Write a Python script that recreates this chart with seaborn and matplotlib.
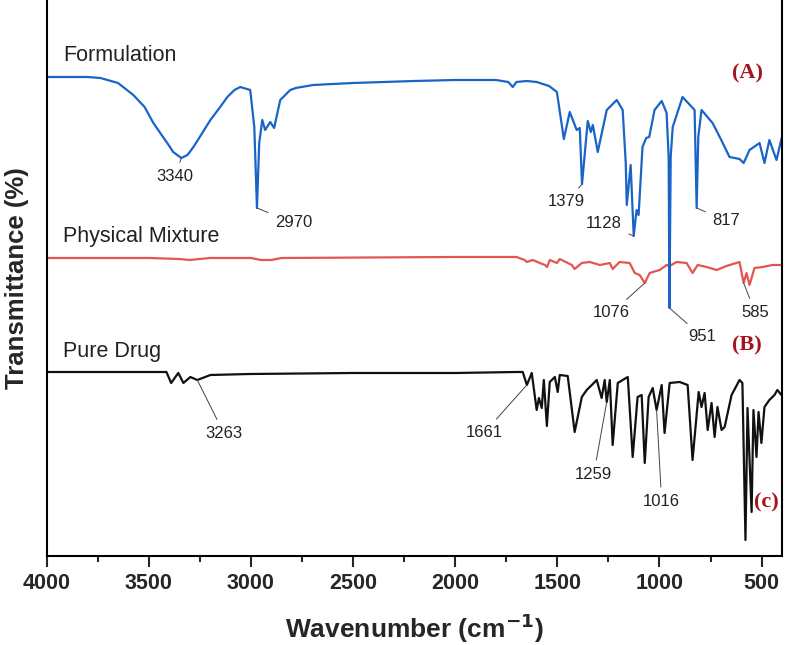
import pandas as pd
import matplotlib.pyplot as plt
import seaborn as sns
from matplotlib.ticker import MultipleLocator

sns.set_style("ticks")
plt.rcParams["font.family"] = ["Liberation Sans", "DejaVu Sans"]

# FTIR spectra, transmittance relative to each trace's own baseline (a.u.)
form_wn = [4000, 3800, 3736, 3650, 3575, 3520, 3477, 3440, 3409, 3380, 3340, 3310,
           3281, 3250, 3198, 3150, 3115, 3080, 3052, 3003,
           2983, 2970, 2959, 2944, 2930, 2905, 2886, 2856, 2807, 2780, 2695, 2600,
           2500, 2200, 2000, 1800, 1740, 1718, 1700, 1650, 1600, 1586, 1540, 1502,
           1468, 1439, 1405, 1390, 1379, 1351, 1336, 1326, 1302, 1258, 1209, 1180,
           1165, 1160, 1141, 1126, 1112, 1102, 1083, 1065, 1050, 1024, 989, 965,
           955, 951, 945, 935, 887, 828, 818, 810, 794, 740, 700, 657, 608, 588,
           559, 510, 486, 462, 427, 402]
form_t = [0, 0, -1, -6, -18, -30, -46, -57, -66, -75, -81, -78,
          -70, -60, -43, -30, -20, -13, -10, -13,
          -50, -131, -66, -43, -53, -45, -51, -23, -13, -11, -8, -7,
          -6, -4, -3, -3, -5, -10, -5, -4, -5, -6, -9, -15,
          -62, -35, -53, -51, -107, -44, -55, -48, -75, -33, -23, -33,
          -86, -128, -88, -159, -133, -138, -70, -61, -60, -33, -24, -36,
          -80, -231, -80, -50, -20, -33, -131, -60, -33, -46, -62, -80, -82, -86,
          -73, -66, -86, -63, -83, -61]

mix_wn = [4000, 3500, 3350, 3300, 3200, 3000, 2950, 2900, 2850, 2000, 1700, 1660,
          1649, 1620, 1586, 1560, 1550, 1537, 1502, 1488, 1429, 1415, 1380, 1341,
          1292, 1243, 1229, 1195, 1146, 1121, 1097, 1072, 1048, 999, 965, 951, 916,
          867, 838, 813, 770, 720, 672, 608, 588, 574, 559, 535, 495, 447, 398]
mix_t = [0, 0, -1, -2, 0, 0, -2, -2, 0, 1, 1, -2,
         -4, -2, -5, -7, -9, -2, -5, -1, -7, -11, -5, -4,
         -7, -5, -11, -4, -5, -15, -17, -25, -15, -12, -7, -8, -4,
         -5, -15, -7, -9, -12, -8, -4, -25, -15, -27, -10, -9, -7, -7]

drug_wn = [4000, 3600, 3413, 3390, 3355, 3330, 3296, 3262, 3198, 3003, 2500, 2000,
           1700, 1669, 1649, 1625, 1601, 1590, 1576, 1566, 1551, 1537, 1512, 1498,
           1488, 1449, 1415, 1380, 1356, 1331, 1307, 1283, 1268, 1258, 1243, 1229,
           1204, 1180, 1155, 1131, 1107, 1087, 1072, 1053, 1033, 1014, 989, 975,
           950, 901, 862, 838, 808, 794, 779, 764, 745, 730, 716, 696, 681, 647,
           608, 594, 579, 569, 549, 540, 525, 515, 501, 486, 462, 437, 423, 403]
drug_t = [0, 0, 0, -11, -1, -11, -5, -8, -3, -2, -1, -1,
          0, 0, -13, -1, -38, -26, -36, -8, -54, -10, -5, -20,
          -3, -4, -60, -25, -18, -13, -8, -26, -8, -30, -8, -73,
          -11, -8, -5, -85, -25, -23, -91, -25, -16, -38, -13, -61,
          -11, -10, -13, -88, -20, -35, -21, -58, -31, -65, -35, -58, -55, -23,
          -8, -11, -168, -36, -140, -38, -85, -40, -71, -35, -28, -23, -18, -23]

series_names = ["Pure Drug", "Physical Mixture", "Formulation"]
series_wn = [drug_wn, mix_wn, form_wn]
series_t = [drug_t, mix_t, form_t]
offsets = {"Pure Drug": 184, "Physical Mixture": 298, "Formulation": 479}
colors = {"Pure Drug": "#111111", "Physical Mixture": "#E25550", "Formulation": "#1A64C8"}

rows = []
for name, wn, t in zip(series_names, series_wn, series_t):
    for w, v in zip(wn, t):
        rows.append({"Wavenumber": w, "T": v + offsets[name], "Sample": name})
df = pd.DataFrame(rows)

# peak labels: (text, series, peak wavenumber)
peak_labels = ["3340", "2970", "1379", "1128", "817", "1076", "951", "585",
               "3263", "1661", "1259", "1016"]
peak_series = ["Formulation", "Formulation", "Formulation", "Formulation", "Formulation",
               "Physical Mixture", "Formulation", "Physical Mixture",
               "Pure Drug", "Pure Drug", "Pure Drug", "Pure Drug"]
peak_wn = [3340, 2970, 1379, 1126, 818, 1072, 951, 588, 3262, 1649, 1258, 1014]

# where the label text sits (x, y, ha)
label_pos = [(3374, 379, "center"), (2881, 333, "left"), (1454, 354, "center"),
             (1185, 332, "right"), (672, 335, "center"), (1234, 243, "center"),
             (789, 219, "center"), (530, 243, "center"), (3130, 122, "center"),
             (1859, 123, "center"), (1322, 81, "center"), (989, 54, "center")]

fig = plt.figure(figsize=(7.87, 6.45), dpi=100)
ax = fig.add_axes([0.0591, 0.138, 0.9346, 0.862])

sns.lineplot(data=df, x="Wavenumber", y="T", hue="Sample", hue_order=series_names,
             palette=colors, estimator=None, linewidth=1.6, legend=False, ax=ax)

ax.set_xlim(4000, 400)
ax.set_ylim(0, 556)
ax.set_yticks([])
ax.xaxis.set_major_locator(MultipleLocator(500))
ax.xaxis.set_minor_locator(MultipleLocator(250))
ax.tick_params(axis="x", which="major", direction="out", length=8, width=1.5,
               labelsize=15.5, pad=4)
ax.tick_params(axis="x", which="minor", direction="out", length=4, width=1.5)
for lab in ax.get_xticklabels():
    lab.set_fontweight("bold")
for side in ["left", "bottom", "right"]:
    ax.spines[side].set_linewidth(1.5)
    ax.spines[side].set_color("black")
ax.spines["top"].set_visible(False)

ax.set_xlabel("Wavenumber (cm$^{\\mathbf{-1}}$)", fontsize=19, fontweight="bold", labelpad=13)
ax.set_ylabel("Transmittance (%)", fontsize=18.5, fontweight="bold", labelpad=12.5)

# series names
ax.text(3917, 500, "Formulation", fontsize=15.5, va="center", color="#222222")
ax.text(3917, 319, "Physical Mixture", fontsize=15.5, va="center", color="#222222")
ax.text(3917, 204, "Pure Drug", fontsize=15.5, va="center", color="#222222")

# panel letters
for txt, x, y in [("(A)", 569, 483), ("(B)", 574, 211), ("(c)", 476, 54)]:
    ax.text(x, y, txt, fontsize=16, fontweight="bold", color="#A3141C",
            family=["Liberation Serif", "DejaVu Serif"], ha="center", va="center")

# peak annotations with thin leader lines
for lab, ser, w, (tx, ty, ha) in zip(peak_labels, peak_series, peak_wn, label_pos):
    wn = series_wn[series_names.index(ser)]
    t = series_t[series_names.index(ser)]
    y = t[wn.index(w)] + offsets[ser]
    ax.annotate(lab, xy=(w, y), xytext=(tx, ty), ha=ha, va="center", fontsize=12,
                color="#222222",
                arrowprops=dict(arrowstyle="-", color="#444444", lw=0.7,
                                shrinkA=3, shrinkB=0))

plt.savefig("out.png", dpi=100)
